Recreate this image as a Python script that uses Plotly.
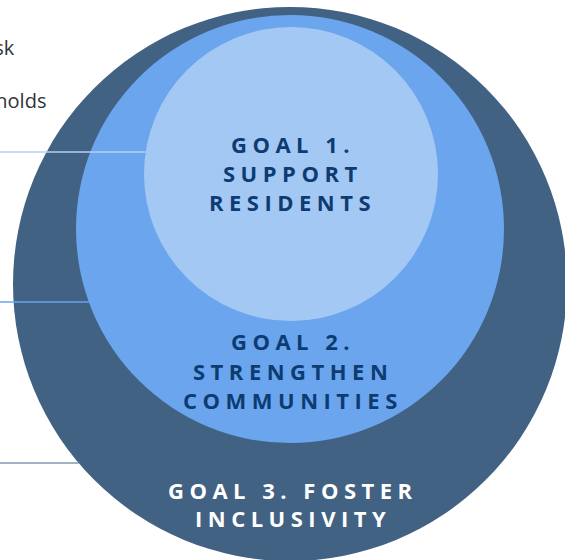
import plotly.graph_objects as go

# Nested goals (outer -> inner)
goal_names = ["GOAL 3. FOSTER<br>INCLUSIVITY",
              "GOAL 2.<br>STRENGTHEN<br>COMMUNITIES",
              "GOAL 1.<br>SUPPORT<br>RESIDENTS"]
circle_cx = [290, 290, 291]
circle_cy = [284, 229, 174]
circle_r = [277, 214, 147]
circle_colors = ["#426284", "#6aa5ee", "#a4c8f4"]
text_colors = ["#ffffff", "#0c3c72", "#0c3c72"]
text_y = [[489.5, 517.5], [341, 370.5, 400], [144, 173, 202]]

# Leader lines (y position, target circle index)
leader_y = [152, 302, 463]
leader_target = [2, 1, 0]
leader_colors = ["#b4d0f4", "#6aa5ee", "#8299b2"]

# Partially visible side labels
side_labels = ["At risk", "households"]
side_label_y = [47, 100]
side_label_right = [16.5, 47.5]

W, H = 565, 560
fig = go.Figure()
fig.add_trace(go.Scatter(x=[0, W], y=[0, H], mode="markers",
                         marker=dict(opacity=0), hoverinfo="skip", showlegend=False))

shapes = []
for cx, cy, r, c in zip(circle_cx, circle_cy, circle_r, circle_colors):
    shapes.append(dict(type="circle", xref="x", yref="y",
                       x0=cx - r, x1=cx + r, y0=cy - r, y1=cy + r,
                       fillcolor=c, line=dict(width=0), layer="below"))

for ly, ti, lc in zip(leader_y, leader_target, leader_colors):
    cx, cy, r = circle_cx[ti], circle_cy[ti], circle_r[ti]
    dx = (r ** 2 - (ly - cy) ** 2) ** 0.5
    shapes.append(dict(type="line", xref="x", yref="y",
                       x0=-20, x1=cx - dx, y0=ly, y1=ly,
                       line=dict(color=lc, width=1.5), layer="above"))

annotations = []
for name, tys, tc, cx in zip(goal_names, text_y, text_colors, circle_cx):
    for line, ty in zip(name.split("<br>"), tys):
        annotations.append(dict(
            x=290 + 2.75, y=ty, xref="x", yref="y", showarrow=False,
            text='<span style="letter-spacing:5.5px">' + line + "</span>",
            font=dict(family="Open Sans", size=22, color=tc, weight="bold"),
            xanchor="center", yanchor="middle"))

for lab, ly, lx in zip(side_labels, side_label_y, side_label_right):
    annotations.append(dict(x=lx, y=ly, xref="x", yref="y", showarrow=False,
                            text=lab, xanchor="right", yanchor="middle",
                            font=dict(family="Open Sans", size=20, color="#2e3338")))

fig.update_layout(
    width=W, height=H, margin=dict(l=0, r=0, t=0, b=0),
    paper_bgcolor="white", plot_bgcolor="white",
    xaxis=dict(range=[0, W], visible=False, fixedrange=True),
    yaxis=dict(range=[H, 0], visible=False, fixedrange=True),
    shapes=shapes, annotations=annotations, showlegend=False,
)
fig.write_html("out.html", config={"displayModeBar": False},
               post_script="document.body.style.margin='0';document.body.style.overflow='hidden';")
